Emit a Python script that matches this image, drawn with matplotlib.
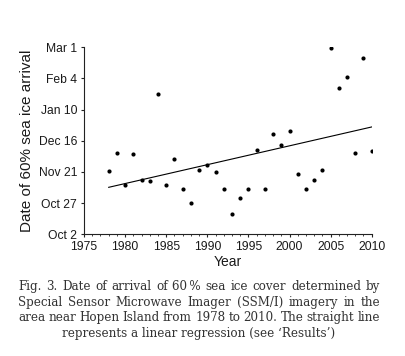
import matplotlib
matplotlib.use("Agg")
import matplotlib.pyplot as plt
import numpy as np

years = list(range(1978, 2011))
# days after Oct 2
arrival_days = [50.6, 65.6, 39.6, 64.6, 43.7, 42.6, 112.5, 39.6, 60.5, 36.4,
                25.4, 51.7, 55.7, 49.6, 36.4, 16.6, 28.7, 36.4, 67.5, 36.4,
                80.6, 71.5, 82.5, 48.5, 36.4, 43.7, 51.7, 149.5, 117.6, 126.4,
                65.6, 141.4, 66.7]
ytick_days = [0, 25, 50, 75, 100, 125, 150]
ytick_labels = ["Oct 2", "Oct 27", "Nov 21", "Dec 16", "Jan 10", "Feb 4", "Mar 1"]
xticks = [1975, 1980, 1985, 1990, 1995, 2000, 2005, 2010]
caption_lines = [
    "Fig. 3. Date of arrival of 60\u2009% sea ice cover determined by",
    "Special Sensor Microwave Imager (SSM/I) imagery in the",
    "area near Hopen Island from 1978 to 2010. The straight line",
    "represents a linear regression (see \u2018Results\u2019)",
]

plt.rcParams['font.family'] = ['Liberation Sans', 'DejaVu Sans']
fig = plt.figure(figsize=(4.06, 3.56), dpi=100)
ax = fig.add_axes([0.207, 0.342, 0.7085, 0.525])

tc = '#1a1a1a'
ax.scatter(years, arrival_days, s=9, color='black', zorder=3, linewidths=0)
x = np.array(years, dtype=float)
coef = np.polyfit(x, arrival_days, 1)
ax.plot([years[0], years[-1]], np.polyval(coef, [years[0], years[-1]]),
        color='black', lw=0.8)

ax.set_xlim(1975, 2010)
ax.set_ylim(0, 150)
ax.set_xticks(xticks)
ax.set_xticks(range(1975, 2011), minor=True)
ax.set_yticks(ytick_days)
ax.set_yticklabels(ytick_labels)
for s in ['top', 'right']:
    ax.spines[s].set_visible(False)
for s in ['left', 'bottom']:
    ax.spines[s].set_color('#222222')
    ax.spines[s].set_linewidth(0.8)
ax.tick_params(axis='both', which='major', direction='out', length=2.5, width=0.8,
               labelsize=8.7, colors='#222222', labelcolor=tc, pad=2.5)
ax.tick_params(axis='x', which='minor', direction='out', length=1.5, width=0.6, colors='#222222')
ax.set_xlabel("Year", fontsize=10, color=tc, labelpad=1)
ax.set_ylabel("Date of 60% sea ice arrival", fontsize=11, color=tc, labelpad=3)

# caption with justified lines
cap_font = dict(family='DejaVu Serif', fontsize=8.6, color='#333333')
ys = [286.7, 302.3, 317.7, 333.3]
left_px, right_px = 18, 380
fig.canvas.draw()
r = fig.canvas.get_renderer()
for i, line in enumerate(caption_lines):
    yfig = 1 - ys[i] / 356
    if i < 3:
        words = line.split(' ')
        widths = []
        for w in words:
            t = fig.text(0, 0, w, **cap_font)
            widths.append(t.get_window_extent(r).width)
            t.remove()
        gap = (right_px - left_px - sum(widths)) / (len(words) - 1)
        xpos = left_px
        for w, wd in zip(words, widths):
            fig.text(xpos / 406, yfig, w, ha='left', va='center', **cap_font)
            xpos += wd + gap
    else:
        fig.text(199 / 406, yfig, line, ha='center', va='center', **cap_font)

fig.savefig("out.png", dpi=100)
